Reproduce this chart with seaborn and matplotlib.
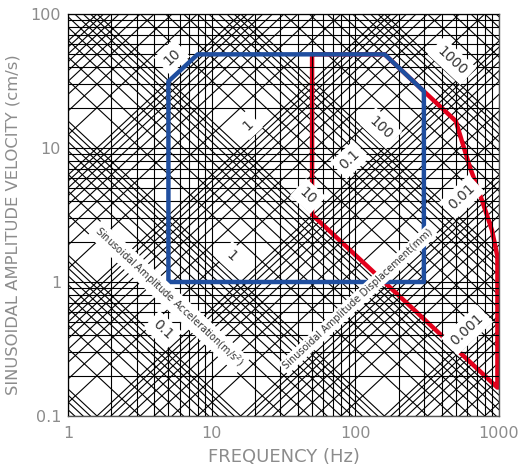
import math

import matplotlib
matplotlib.use("Agg")
import matplotlib.pyplot as plt
import numpy as np
import seaborn as sns


freq_ticks = [1, 10, 100, 1000]
freq_tick_labels = ["1", "10", "100", "1000"]
vel_ticks = [0.1, 1, 10, 100]
vel_tick_labels = ["0.1", "1", "10", "100"]

# constant acceleration (m/s^2) and displacement (mm) grid lines
accel_lines = [k * 10.0 ** n for n in range(-3, 4) for k in range(1, 10)]
disp_lines = [k * 10.0 ** n for n in range(-4, 3) for k in range(1, 10)]

# blue envelope (Hz, cm/s)
blue_freq = [5, 5, 8, 160, 300, 300, 5]
blue_vel = [1, 31.4, 50, 50, 26.5, 1, 1]

# red envelope (Hz, cm/s)
red_freq = [50, 50, 975, 975, 893, 760, 627, 500, 300, 160, 50]
red_vel = [50, 3.18, 0.163, 1.55, 2.44, 4.09, 7.2, 15.9, 26.5, 50, 50]

accel_labels = ["0.1", "1", "10", "100", "1000"]
disp_labels = ["10", "1", "0.1", "0.01", "0.001"]

# label spots in axes fraction
accel_label_pos = [(0.220, 0.214), (0.378, 0.398), (0.557, 0.547),
                   (0.726, 0.716), (0.891, 0.883)]
disp_label_pos = [(0.241, 0.893), (0.418, 0.724), (0.654, 0.637),
                  (0.914, 0.545), (0.926, 0.214)]

sns.set_theme(style="white")
plt.rcParams["font.family"] = ["DejaVu Sans"]

fig = plt.figure(figsize=(5.24, 4.66), dpi=100)
ax = fig.add_axes([68 / 524, 50 / 466, 431 / 524, 402 / 466])
ax.set_xscale("log")
ax.set_yscale("log")
ax.set_xlim(1, 1000)
ax.set_ylim(0.1, 100)

f = np.array([0.5, 2000.0])
for a in accel_lines:
    ax.plot(f, 100 * a / (2 * np.pi * f), color="black", lw=0.8, zorder=2)
for d in disp_lines:
    ax.plot(f, 2 * np.pi * f * d / 10, color="black", lw=0.8, zorder=2)

ax.set_xticks(freq_ticks, freq_tick_labels)
ax.set_yticks(vel_ticks, vel_tick_labels)
ax.grid(True, which="both", color="black", lw=0.8, zorder=2)
ax.set_axisbelow(False)
ax.tick_params(which="both", length=0, labelsize=11.5, labelcolor="#8c8c8c")
ax.tick_params(axis="x", pad=7)
ax.tick_params(axis="y", pad=5)

sns.lineplot(x=red_freq, y=red_vel, sort=False, estimator=None, ax=ax,
             color="#e3001b", lw=3.2, zorder=2.5)
sns.lineplot(x=blue_freq, y=blue_vel, sort=False, estimator=None, ax=ax,
             color="#1f4e9f", lw=3.2, zorder=3)

ax.set_xlabel("FREQUENCY (Hz)", fontsize=13, color="#8c8c8c", labelpad=5)
ax.set_ylabel("SINUSOIDAL AMPLITUDE VELOCITY (cm/s)", fontsize=11.8,
              color="#8c8c8c")
ax.yaxis.set_label_coords(-0.111, 0.475)

for s in ax.spines.values():
    s.set_color("#555555")
    s.set_linewidth(1)

w_px = 431.0
h_px = 402.0
ang = math.degrees(math.atan(h_px / w_px))
box = dict(boxstyle="square,pad=0.35", fc="white", ec="none")

for txt, (x, y) in zip(accel_labels, accel_label_pos):
    ax.text(x, y, txt, transform=ax.transAxes, rotation=-ang, fontsize=10,
            color="#333333", ha="center", va="center",
            rotation_mode="anchor", bbox=box, zorder=5)
for txt, (x, y) in zip(disp_labels, disp_label_pos):
    ax.text(x, y, txt, transform=ax.transAxes, rotation=ang, fontsize=10,
            color="#333333", ha="center", va="center",
            rotation_mode="anchor", bbox=box, zorder=5)

ax.text(0.234, 0.296, "Sinusoidal Amplitude Acceleration(m/s$^2$)",
        transform=ax.transAxes, rotation=-ang, fontsize=7, color="#333333",
        ha="center", va="center", rotation_mode="anchor",
        bbox=dict(boxstyle="square,pad=0.25", fc="white", ec="none"), zorder=5)
ax.text(0.673, 0.291, "Sinusoidal Amplitude Displacement(mm)",
        transform=ax.transAxes, rotation=ang, fontsize=7, color="#333333",
        ha="center", va="center", rotation_mode="anchor",
        bbox=dict(boxstyle="square,pad=0.25", fc="white", ec="none"), zorder=5)

fig.savefig("out.png", dpi=100)
